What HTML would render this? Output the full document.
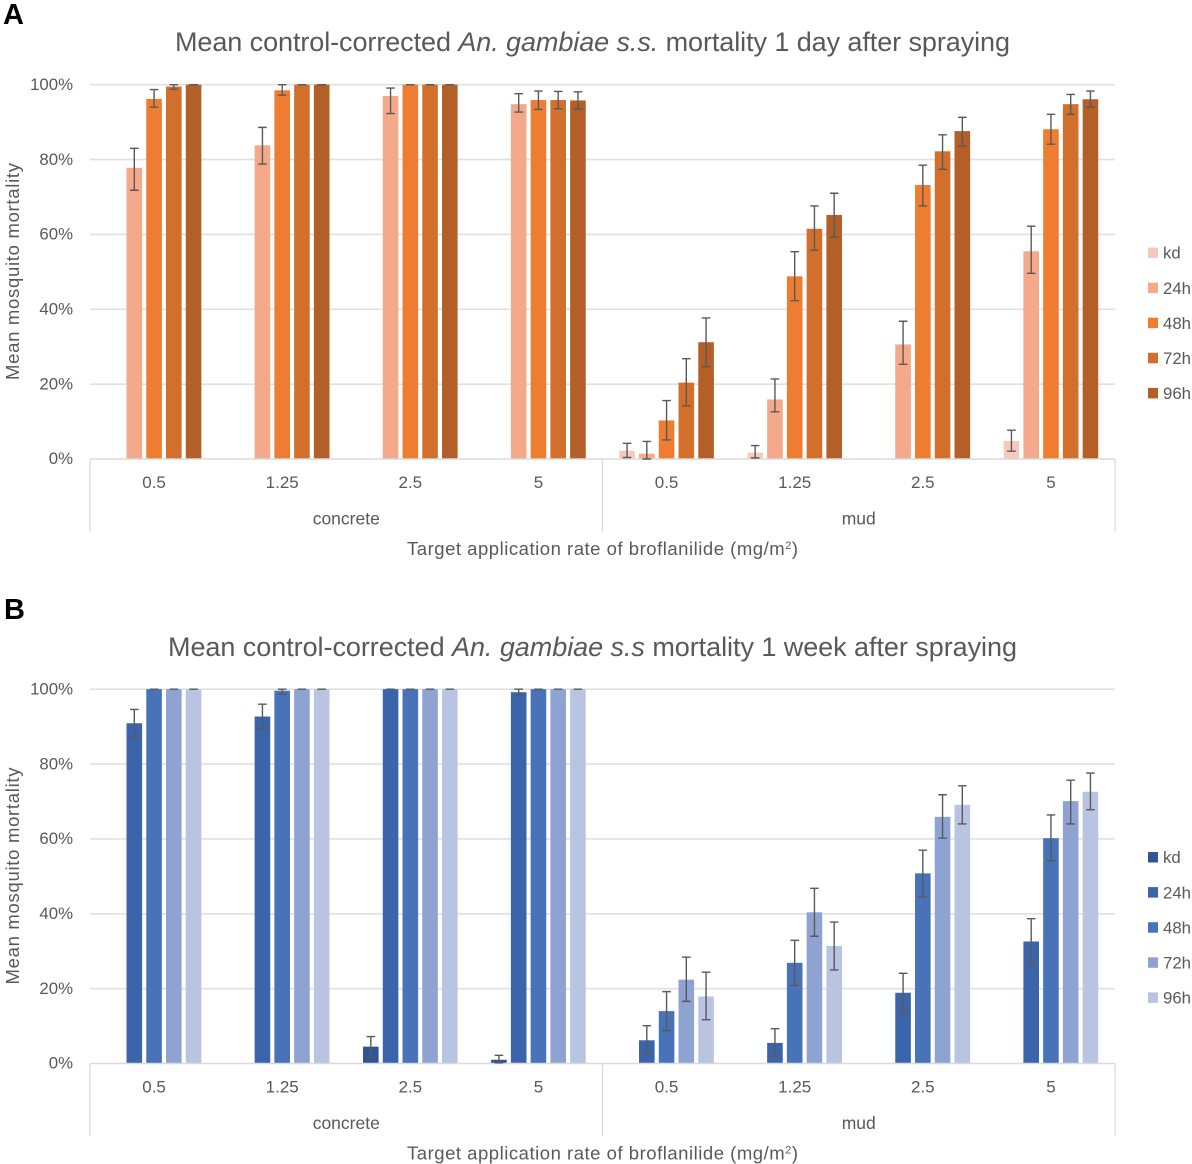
<!DOCTYPE html>
<html lang="en">
<head>
<meta charset="utf-8">
<title>Mean control-corrected An. gambiae mortality</title>
<style>
html,body{margin:0;padding:0;background:#fff;width:1192px;height:1164px;overflow:hidden}
svg{display:block}
text{font-family:"Liberation Sans",sans-serif;fill:#595959}
</style>
</head>
<body>
<svg id="chart" xmlns="http://www.w3.org/2000/svg" width="1192" height="1164" viewBox="0 0 1192 1164">
  <rect width="1192" height="1164" fill="#fff"/>
  <text x="3" y="24" font-size="29" font-weight="bold" style="fill:#000">A</text>
  <text x="4" y="619" font-size="29" font-weight="bold" style="fill:#000">B</text>
  <text x="175" y="51" font-size="27" textLength="835" lengthAdjust="spacing">Mean control-corrected <tspan font-style="italic">An. gambiae s.s.</tspan> mortality 1 day after spraying</text>
  <text x="168" y="656" font-size="27" textLength="849" lengthAdjust="spacing">Mean control-corrected <tspan font-style="italic">An. gambiae s.s</tspan> mortality 1 week after spraying</text>
  <g id="panel-a"></g>
  <g id="panel-b"></g>
</svg>
<script>
const seriesLabels = ['kd', '24h', '48h', '72h', '96h'];
const rateLabels = ['0.5', '1.25', '2.5', '5', '0.5', '1.25', '2.5', '5'];
const surfaceLabels = ['concrete', 'mud'];
const yTickValues = [0, 20, 40, 60, 80, 100];
const yTitleText = 'Mean mosquito mortality';
const xTitleText = 'Target application rate of broflanilide (mg/m';
const colorsA = ['#f6cabb', '#f3a98a', '#ee7d31', '#d2702b', '#b35f27'];
const colorsB = ['#2f5597', '#3a65ab', '#4873b8', '#8fa3d2', '#b9c4e3'];

const aKd = [null, null, null, null, 2.2, 1.7, null, 4.8];
const aKdUp = [null, null, null, null, 4.2, 3.6, null, 7.7];
const aKdLow = [null, null, null, null, 0.4, 0.3, null, 2.1];
const a24 = [77.8, 83.8, 97, 94.8, 1.4, 15.9, 30.6, 55.5];
const a24Up = [83, 88.6, 99.1, 97.6, 4.7, 21.4, 36.8, 62.2];
const a24Low = [71.8, 78.8, 92.3, 92.7, 0, 12.6, 25.3, 49.6];
const a48 = [96.2, 98.5, 100, 95.9, 10.3, 48.8, 73.2, 88.1];
const a48Up = [98.7, 100, 100, 98.3, 15.6, 55.4, 78.5, 92.1];
const a48Low = [94, 97.2, 100, 93.4, 5.1, 42.3, 67.6, 84.1];
const a72 = [99.5, 100, 100, 95.9, 20.4, 61.5, 82.2, 94.8];
const a72Up = [100, 100, 100, 98.2, 26.8, 67.6, 86.6, 97.4];
const a72Low = [98.8, 100, 100, 93.6, 14.2, 55.8, 77.4, 92.1];
const a96 = [100, 100, 100, 95.8, 31.2, 65.2, 87.6, 96.1];
const a96Up = [100, 100, 100, 98.1, 37.7, 71, 91.3, 98.3];
const a96Low = [100, 100, 100, 93.5, 24.7, 59.3, 83.6, 94];

const bKd = [null, null, 4.5, 1, null, null, null, null];
const bKdUp = [null, null, 7.2, 2.2, null, null, null, null];
const bKdLow = [null, null, 1.7, 0.2, null, null, null, null];
const b24 = [90.9, 92.7, 100, 99.2, 6.2, 5.5, 18.9, 32.6];
const b24Up = [94.6, 96, 100, 100, 10.1, 9.3, 24.1, 38.7];
const b24Low = [87.1, 89.4, 100, 98.3, 2.5, 2, 13.7, 26.4];
const b48 = [100, 99.6, 100, 100, 14, 26.9, 50.8, 60.2];
const b48Up = [100, 100, 100, 100, 19.2, 32.9, 57, 66.4];
const b48Low = [100, 98.7, 100, 100, 8.8, 20.9, 44.5, 54.2];
const b72 = [100, 100, 100, 100, 22.4, 40.4, 65.9, 70.1];
const b72Up = [100, 100, 100, 100, 28.4, 46.8, 71.8, 75.7];
const b72Low = [100, 100, 100, 100, 16.6, 34, 60.2, 64];
const b96 = [100, 100, 100, 100, 17.9, 31.4, 69.1, 72.6];
const b96Up = [100, 100, 100, 100, 24.4, 37.8, 74.2, 77.6];
const b96Low = [100, 100, 100, 100, 11.7, 25, 64, 67.8];

const NS = 'http://www.w3.org/2000/svg';
const plotLeft = 90, plotRight = 1115, barPitch = 19.75, barWidth = 15.6;
const groupWidth = (plotRight - plotLeft) / rateLabels.length;

function xScale(groupIndex, seriesIndex) {
  return plotLeft + (groupIndex + 0.5) * groupWidth + (seriesIndex - 2) * barPitch;
}
function shape(parent, tag, attrs, content) {
  const el = document.createElementNS(NS, tag);
  for (const k in attrs) el.setAttribute(k, attrs[k]);
  if (content !== undefined) el.textContent = content;
  parent.appendChild(el);
  return el;
}

function drawPanel(root, prefix, top, base, colors, series) {
  const yScale = v => base - (v / 100) * (base - top);
  const off = top - 84.7;

  yTickValues.forEach(t => {
    if (t > 0) {
      const grid = shape(root, 'line', {x1: plotLeft, x2: plotRight, y1: yScale(t), y2: yScale(t), stroke: '#e0e0e0', 'stroke-width': 1.6});
      
      
    }
    const label = shape(root, 'text', {x: 73, y: yScale(t) + 5.2, 'font-size': 16.8, 'text-anchor': 'end'}, t + '%');
    
    
  });

  series.forEach((s, si) => {
    s.values.forEach((v, gi) => {
      if (v === null) return;
      const cx = xScale(gi, si);
      const bar = shape(root, 'rect', {x: cx - barWidth / 2, y: yScale(v), width: barWidth, height: base - yScale(v), fill: colors[si]});
      
      
    });
  });

  const axis = shape(root, 'line', {x1: plotLeft, x2: plotRight, y1: base, y2: base, stroke: '#dadada', 'stroke-width': 1.6});
  
  
  [plotLeft, (plotLeft + plotRight) / 2, plotRight].forEach(x => {
    const sep = shape(root, 'line', {x1: x, x2: x, y1: base, y2: base + 72.5, stroke: '#dadada', 'stroke-width': 1.3});
    
    
  });

  series.forEach((s, si) => {
    s.values.forEach((v, gi) => {
      if (v === null) return;
      const cx = xScale(gi, si);
      const yUp = yScale(s.upper[gi]), yLow = yScale(s.lower[gi]);
      const err = shape(root, 'path', {
        d: 'M' + (cx - 4.3) + ' ' + yUp + 'H' + (cx + 4.3) + 'M' + cx + ' ' + yUp + 'V' + yLow + 'M' + (cx - 4.3) + ' ' + yLow + 'H' + (cx + 4.3),
        fill: 'none', stroke: '#595959', 'stroke-width': 1.4
      });
      
      
    });
  });

  rateLabels.forEach((r, gi) => {
    const label = shape(root, 'text', {x: xScale(gi, 2), y: base + 29, 'font-size': 17, 'text-anchor': 'middle'}, r);
    
    
  });
  surfaceLabels.forEach((name, i) => {
    const mid = plotLeft + (i + 0.5) * (plotRight - plotLeft) / surfaceLabels.length;
    const label = shape(root, 'text', {x: mid, y: base + 65.5, 'font-size': 17.5, 'text-anchor': 'middle'}, name);
    
    
  });

  const xTitle = shape(root, 'text', {x: 407, y: base + 96, 'font-size': 18.5, textLength: 391, lengthAdjust: 'spacing'}, xTitleText);
  
  
  const sup = shape(xTitle, 'tspan', {dy: -6, 'font-size': 11}, '2');
  
  
  const closing = shape(xTitle, 'tspan', {dy: 6}, ')');
  
  

  const yTitle = shape(root, 'text', {x: 0, y: 0, 'font-size': 18.5, textLength: 217, lengthAdjust: 'spacing', transform: 'translate(19 ' + (380 + off) + ') rotate(-90)'}, yTitleText);
  
  

  seriesLabels.forEach((name, i) => {
    const cy = 253 + off + i * 35.1;
    const swatch = shape(root, 'rect', {x: 1148, y: cy - 5.5, width: 10, height: 10.5, fill: colors[i]});
    
    
    const label = shape(root, 'text', {x: 1163, y: cy + 5.7, 'font-size': 16.8}, name);
    
    
  });
}

drawPanel(document.getElementById('panel-a'), 'panel-a', 84.7, 459, colorsA, [
  {values: aKd, upper: aKdUp, lower: aKdLow},
  {values: a24, upper: a24Up, lower: a24Low},
  {values: a48, upper: a48Up, lower: a48Low},
  {values: a72, upper: a72Up, lower: a72Low},
  {values: a96, upper: a96Up, lower: a96Low}
]);
drawPanel(document.getElementById('panel-b'), 'panel-b', 689.2, 1063.5, colorsB, [
  {values: bKd, upper: bKdUp, lower: bKdLow},
  {values: b24, upper: b24Up, lower: b24Low},
  {values: b48, upper: b48Up, lower: b48Low},
  {values: b72, upper: b72Up, lower: b72Low},
  {values: b96, upper: b96Up, lower: b96Low}
]);
</script>
</body>
</html>
